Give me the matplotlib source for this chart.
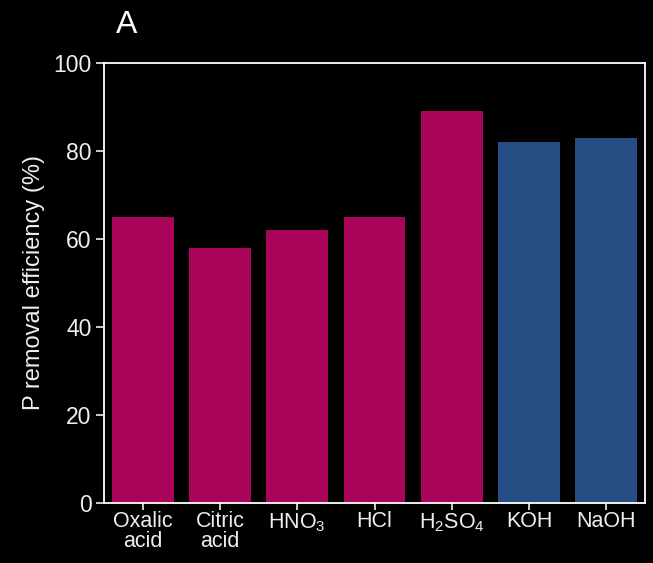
import matplotlib
matplotlib.use("Agg")
import matplotlib.pyplot as plt
from matplotlib.ticker import MultipleLocator

plt.rcParams['font.family'] = ['Liberation Sans', 'DejaVu Sans']
plt.rcParams['mathtext.fontset'] = 'custom'
plt.rcParams['mathtext.rm'] = 'Liberation Sans'
plt.rcParams['mathtext.default'] = 'regular'

categories = ["Oxalic\nacid", "Citric\nacid", "HNO$_3$", "HCl", "H$_2$SO$_4$", "KOH", "NaOH"]
efficiency = [65, 58, 62, 65, 89, 82, 83]
groups = ["acid", "acid", "acid", "acid", "acid", "base", "base"]
palette = {"acid": "#A8055A", "base": "#264C84"}

fig = plt.figure(figsize=(6.53, 5.63), dpi=100, facecolor="black")
ax = fig.add_axes([104 / 653, 60 / 563, 541 / 653, 440 / 563], facecolor="black")

x = range(len(categories))
ax.bar(x, efficiency, width=0.8, color=[palette[g] for g in groups])

ax.set_xlim(-0.5, 6.5)
ax.set_ylim(0, 100)
ax.yaxis.set_major_locator(MultipleLocator(20))
ax.yaxis.set_minor_locator(MultipleLocator(10))
ax.set_xticks(list(x))
ax.set_xticklabels(categories, fontsize=15.5, linespacing=0.9)

for s in ax.spines.values():
    s.set_color("white")
    s.set_linewidth(1.3)
ax.tick_params(axis="both", colors="#EEEEEE", direction="out", width=1.2)
ax.tick_params(axis="y", which="major", length=6, labelsize=16.5, pad=3)
ax.tick_params(axis="y", which="minor", length=3)
ax.tick_params(axis="x", which="major", length=5, pad=1)

ax.set_ylabel("P removal efficiency (%)", color="#EEEEEE", fontsize=17, labelpad=6)
fig.text(127 / 653, 1 - 25 / 563, "A", color="white", fontsize=23, ha="center", va="center")

fig.savefig("out.png", dpi=100, facecolor="black")
